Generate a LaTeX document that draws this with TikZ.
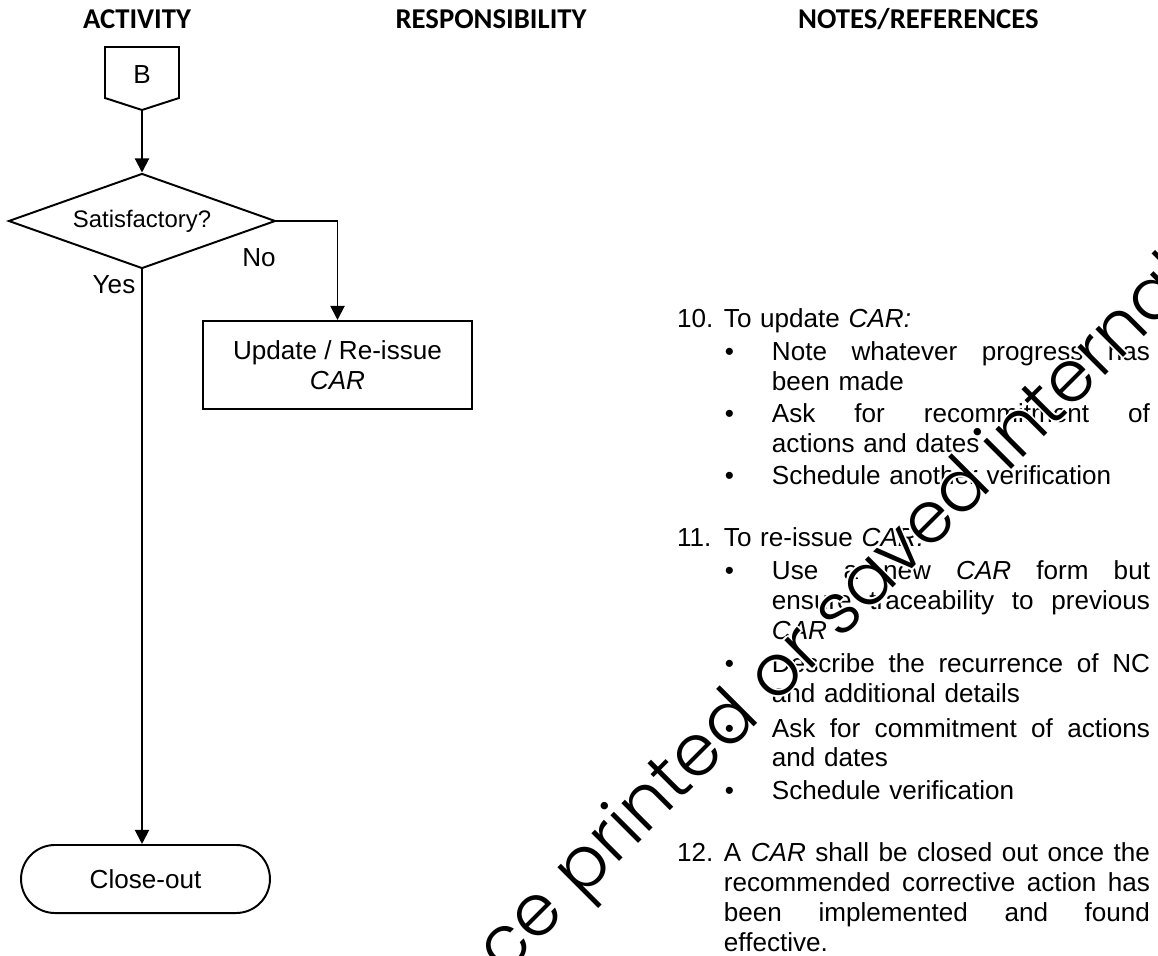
\documentclass[tikz,border=0pt]{standalone}
\usepackage{fontspec}
\setmainfont{Liberation Sans}
\newfontfamily\headfont{Carlito}
\IfFontExistsTF{Poppins Light}{\newfontfamily\wmfont{Poppins Light}}{\newfontfamily\wmfont{Poppins}}
\usetikzlibrary{shapes.geometric,arrows.meta}
\newcommand{\bul}{\leavevmode\llap{\textbullet\hspace{17.5pt}}}
\newcommand{\num}[1]{\leavevmode\llap{\makebox[21.6pt][l]{#1}}}
\newcommand{\jl}[2]{\leavevmode\hbox to #1{\spaceskip=0.278em plus 1fil\relax #2}}
\def\bw{173.9pt}
\def\nw{196pt}
\begin{document}
\begin{tikzpicture}[x=0.46pt,y=-0.46pt,line width=0.9pt,
                    >={Triangle[length=6.5pt,width=6.5pt]},
                    every node/.style={font=\fontsize{12}{13.8}\selectfont},
                    head/.style={font=\headfont\fontsize{13.2}{15}\selectfont\bfseries,anchor=base},
                    decision/.style={draw,diamond,aspect=2.8,inner sep=0pt,minimum width=122.8pt,
                                     minimum height=43.7pt,font=\fontsize{11}{13}\selectfont},
                    box/.style={draw,align=center,inner sep=0pt,minimum width=123.7pt,minimum height=40.5pt},
                    term/.style={draw,rounded corners=15.6pt,minimum width=114.5pt,minimum height=31.3pt},
                    numitem/.style={anchor=base west,inner sep=0pt,text width=197pt,align=left},
                    bulitem/.style={anchor=base west,inner sep=0pt,text width=175pt,align=left},
                    wm/.style={font=\wmfont\fontsize{33}{33}\selectfont,rotate=45,inner sep=0pt}]
\useasboundingbox (0,0) rectangle (1158,956);
\node[head] (hact) at (137,29) {ACTIVITY};
\node[head] (hres) at (491,29) {RESPONSIBILITY};
\node[head,anchor=base west] (hnot) at (790,29) {NOTES/REFERENCES};
% activity column
\draw (105,47) -- (179,47) -- (179,98) -- (142,110) -- (105,98) -- cycle;
\node (conB) at (142,75) {B};
\coordinate (Btip) at (142,110);
\node[decision] (sat) at (142,221) {Satisfactory?};
\node[box] (upd) at (337.5,365) {Update / Re-issue\\\textit{CAR}};
\node[term] (close) at (145.5,879) {Close-out};
\node (no) at (259,258) {No};
\node (yes) at (114,285) {Yes};
\draw [->] (Btip) -- (sat.north);
\draw [->] (sat.east) -| (upd.north);
\draw [->] (sat.south) -- (sat.south |- close.north);
% notes
\node[numitem] (n10) at (723,328) {\num{10.}To update \textit{CAR:}};
\node[bulitem] (n10a) at (771,361) {\bul\jl{\bw}{Note whatever progress has}\\been made};
\node[bulitem] (n10b) at (771,423) {\bul\jl{\bw}{Ask for recommitment of}\\actions and dates};
\node[bulitem] (n10c) at (771,485) {\bul Schedule another verification};
\node[numitem] (n11) at (723,547) {\num{11.}To re-issue \textit{CAR:}};
\node[bulitem] (n11a) at (771,580) {\bul\jl{\bw}{Use a new \textit{CAR} form but}\\\jl{\bw}{ensure traceability to previous}\\\textit{CAR}};
\node[bulitem] (n11b) at (771,673) {\bul\jl{\bw}{Describe the recurrence of NC}\\and additional details};
\node[bulitem] (n11c) at (771,737) {\bul\jl{\bw}{Ask for commitment of actions}\\and dates};
\node[bulitem] (n11d) at (771,800) {\bul Schedule verification};
\node[numitem] (n12) at (723,862) {\num{12.}\jl{\nw}{A \textit{CAR} shall be closed out once the}\\\jl{\nw}{recommended corrective action has}\\\jl{\nw}{been implemented and found}\\effective.};
% watermark
\begin{scope}
\clip (0,0) rectangle (1158,956);
\foreach \a in {0,45,...,315}
  \node[wm,white,shift={(\a:2)}] at (826,630) {once printed or saved internally};
\node[wm] (wmark) at (826,630) {once printed or saved internally};
\end{scope}
\end{tikzpicture}
\end{document}
